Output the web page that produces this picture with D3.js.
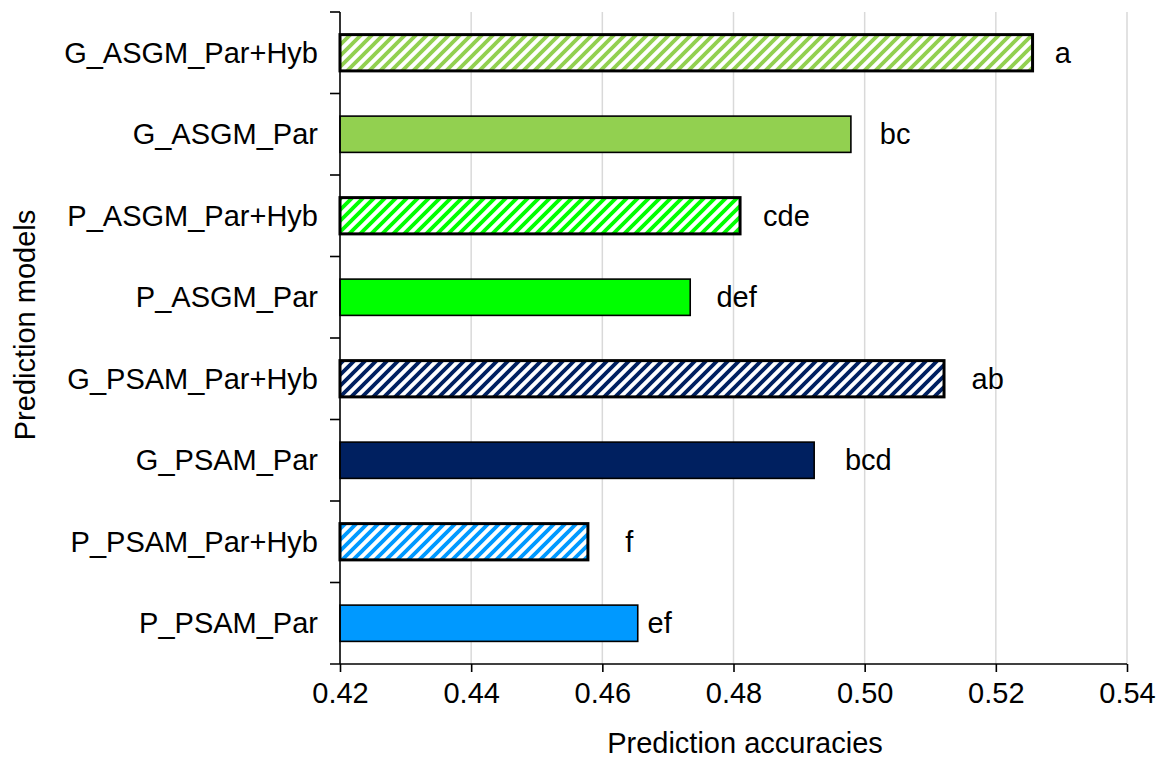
<!DOCTYPE html>
<html>
<head>
<meta charset="utf-8">
<script src="https://cdn.jsdelivr.net/npm/d3@7/dist/d3.min.js"></script>
<style>
  html, body { margin: 0; padding: 0; background: #fff; }
  svg text { font-family: "Liberation Sans", Arial, sans-serif; fill: #000; }
</style>
</head>
<body>
<svg id="chart" width="1165" height="764"></svg>
<script>
// ---- data ----
const categories = ["G_ASGM_Par+Hyb", "G_ASGM_Par", "P_ASGM_Par+Hyb", "P_ASGM_Par",
                    "G_PSAM_Par+Hyb", "G_PSAM_Par", "P_PSAM_Par+Hyb", "P_PSAM_Par"];
const accuracies = [0.5256, 0.4979, 0.4810, 0.4734, 0.5121, 0.4923, 0.4578, 0.4654];
const letters    = ["a", "bc", "cde", "def", "ab", "bcd", "f", "ef"];
const letterAt   = [0.5290, 0.5023, 0.4845, 0.4774, 0.5163, 0.4970, 0.4635, 0.4669];
const hatched    = [true, false, true, false, true, false, true, false];
const groups     = ["G_ASGM", "G_ASGM", "P_ASGM", "P_ASGM", "G_PSAM", "G_PSAM", "P_PSAM", "P_PSAM"];
const xTicks     = [0.42, 0.44, 0.46, 0.48, 0.50, 0.52, 0.54];

const groupColor = { G_ASGM: "#92d050", P_ASGM: "#00ff00", G_PSAM: "#002060", P_PSAM: "#0099ff" };

(function () {
const svg = d3.select("#chart");
const mLeft = 340, mRight = 1127, mTop = 12, mBottom = 664;

const x = d3.scaleLinear().domain([0.42, 0.54]).range([mLeft, mRight]);
const y = d3.scaleBand().domain(categories).range([mTop, mBottom]).paddingInner(0.555).paddingOuter(0.2775);
const yb = d3.scaleBand().domain(categories).range([mTop, mBottom]);

// hatch patterns
const defs = svg.append("defs");
Object.entries(groupColor).forEach(([g, c]) => {
  const p = defs.append("pattern").attr("id", "hatch-" + g)
    .attr("patternUnits", "userSpaceOnUse").attr("width", 11).attr("height", 11);
  p.append("rect").attr("width", 11).attr("height", 11).attr("fill", "#fff");
  p.append("path").attr("d", "M-1,12 L12,-1 M-6.5,6.5 L6.5,-6.5 M4.5,17.5 L17.5,4.5")
    .attr("stroke", c).attr("stroke-width", 3.8);
});

// gridlines
svg.append("g").selectAll("line").data(xTicks.slice(1)).join("line")
  .attr("x1", d => x(d)).attr("x2", d => x(d))
  .attr("y1", mTop).attr("y2", mBottom)
  .attr("stroke", "#d9d9d9").attr("stroke-width", 1.5);

// bars
const rows = categories.map((c, i) => ({ c, v: accuracies[i], h: hatched[i], g: groups[i], l: letters[i], la: letterAt[i] }));
svg.append("g").selectAll("rect").data(rows).join("rect")
  .attr("x", x(0.42))
  .attr("y", d => y(d.c))
  .attr("width", d => x(d.v) - x(0.42))
  .attr("height", y.bandwidth())
  .attr("fill", d => d.h ? `url(#hatch-${d.g})` : groupColor[d.g])
  .attr("stroke", "#000")
  .attr("stroke-width", d => d.h ? 3 : 1.6);

// letters
svg.append("g").selectAll("text").data(rows).join("text")
  .attr("x", d => x(d.la))
  .attr("y", d => y(d.c) + y.bandwidth() / 2)
  .attr("dy", "0.35em")
  .attr("font-size", 29)
  .text(d => d.l);

// x axis
const xAxis = svg.append("g").attr("transform", `translate(0,${mBottom})`)
  .call(d3.axisBottom(x).tickValues(xTicks).tickFormat(d3.format(".2f")).tickSize(8).tickPadding(10));
xAxis.select(".domain").attr("d", `M${mLeft - 10},0H${mRight}`).attr("stroke", "#000").attr("stroke-width", 1.6);
xAxis.selectAll(".tick line").attr("stroke", "#000").attr("stroke-width", 1.6);
xAxis.selectAll(".tick text").attr("font-size", 29).attr("font-family", "Liberation Sans, Arial, sans-serif").attr("fill", "#000");

// y axis line and boundary ticks
const yAx = svg.append("g");
yAx.append("line").attr("x1", mLeft).attr("x2", mLeft).attr("y1", mTop).attr("y2", mBottom)
  .attr("stroke", "#000").attr("stroke-width", 1.6);
yAx.selectAll("line.bt").data(categories).join("line").attr("class", "bt")
  .attr("x1", mLeft - 10).attr("x2", mLeft)
  .attr("y1", d => yb(d)).attr("y2", d => yb(d))
  .attr("stroke", "#000").attr("stroke-width", 1.6);
yAx.selectAll("text").data(categories).join("text")
  .attr("x", 318).attr("y", d => y(d) + y.bandwidth() / 2)
  .attr("dy", "0.35em").attr("text-anchor", "end")
  .attr("font-size", 29).text(d => d);

// axis titles
svg.append("text").attr("x", 745).attr("y", 753).attr("text-anchor", "middle")
  .attr("font-size", 29).text("Prediction accuracies");
svg.append("text").attr("transform", "translate(35,325) rotate(-90)").attr("text-anchor", "middle")
  .attr("font-size", 29).text("Prediction models");
})();
</script>
</body>
</html>
